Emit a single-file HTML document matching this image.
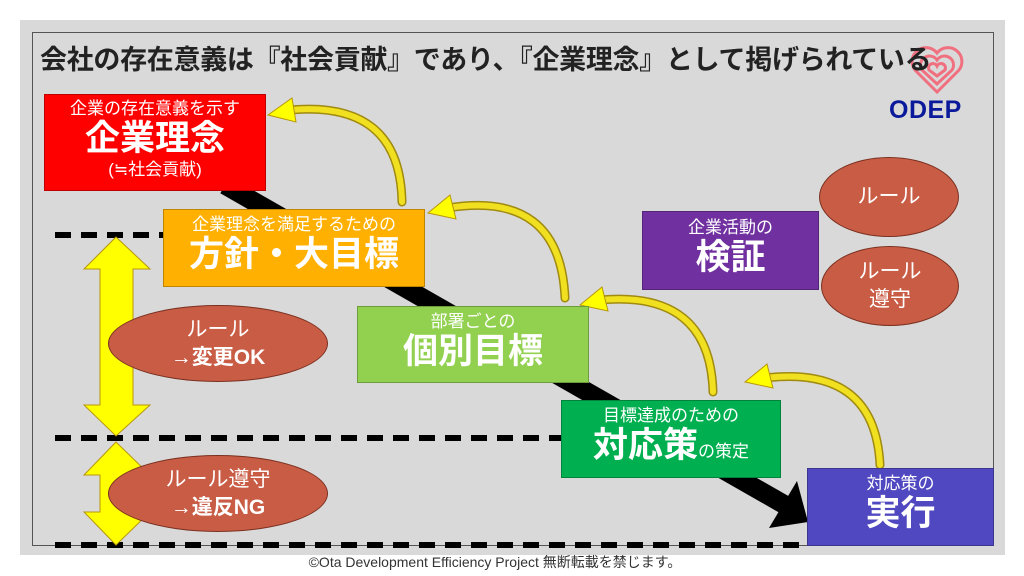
<!DOCTYPE html>
<html><head><meta charset="utf-8"><style>
body{margin:0;width:1024px;height:576px;background:#fff;position:relative;overflow:hidden;font-family:"Liberation Sans","Noto Sans CJK JP",sans-serif}
.a{position:absolute}
.box{position:absolute;color:#fff;text-align:center;box-sizing:border-box;border:1px solid rgba(0,0,0,.25)}
.sm{font-size:17px;line-height:21px}
.bg{font-size:35px;font-weight:bold;line-height:40px}
.el{position:absolute;background:#c95c45;border:1px solid #7a3020;border-radius:50%;color:#fff;text-align:center;box-sizing:border-box;display:flex;flex-direction:column;justify-content:center;font-size:21px;line-height:28px}
</style></head><body>
<div class="a" style="left:20px;top:20px;width:985px;height:535px;background:#d9d9d9"></div>
<div class="a" style="left:32px;top:32px;width:962px;height:514px;border:1px solid #555;box-sizing:border-box"></div>
<svg class="a" style="left:0;top:0" width="1024" height="576">
<g stroke="#000" stroke-width="6" stroke-dasharray="16 10">
<line x1="55" y1="235" x2="165" y2="235"/>
<line x1="55" y1="438" x2="561" y2="438"/>
<line x1="55" y1="545" x2="807" y2="545"/>
</g>
<line x1="225" y1="185" x2="785" y2="505" stroke="#000" stroke-width="19"/>
<polygon points="797,481 808,522 769,528" fill="#000"/>
<g fill="#ffff00" stroke="#b8960a" stroke-width="1">
<polygon points="116,237 150,269 133,269 133,405 150,405 116,436 84,405 100,405 100,269 84,269"/>
<polygon points="116,442 150,475 133,475 133,512 150,512 116,545 84,512 100,512 100,475 84,475"/>
</g>
<g fill="none" stroke="#a08a10" stroke-width="9" stroke-linecap="round">
<path d="M402,202 Q400,100 290,110"/>
<path d="M565,298 Q560,190 448,208"/>
<path d="M713,392 Q710,290 600,300"/>
<path d="M880,465 Q875,365 765,378"/>
</g>
<g fill="none" stroke="#f0e020" stroke-width="6" stroke-linecap="round">
<path d="M402,202 Q400,100 290,110"/>
<path d="M565,298 Q560,190 448,208"/>
<path d="M713,392 Q710,290 600,300"/>
<path d="M880,465 Q875,365 765,378"/>
</g>
<g fill="#ffff00" stroke="#b8960a" stroke-width="1">
<polygon points="268,115 292,98 296,122"/>
<polygon points="428,213 450,195 456,219"/>
<polygon points="580,305 602,287 608,311"/>
<polygon points="745,382 767,364 773,388"/>
</g>
<g transform="translate(937,70)" fill="none" stroke="#f07080" stroke-width="3">
<path d="M0,22 L-22,0 A12,12 0 0 1 0,-17 A12,12 0 0 1 22,0 Z"/>
<path d="M0,14 L-15,0 A8,8 0 0 1 0,-10 A8,8 0 0 1 15,0 Z"/>
<path d="M0,6 L-8,0 A4,4 0 0 1 0,-4 A4,4 0 0 1 8,0 Z"/>
</g>
</svg>
<div class="a" style="left:40px;top:38px;font-size:27px;font-weight:bold;color:#222;white-space:nowrap;letter-spacing:-0.3px">会社の存在意義は『社会貢献』であり、『企業理念』として掲げられている</div>
<div class="a" style="left:889px;top:96px;font-size:25px;font-weight:900;color:#0a1a9a;letter-spacing:0.5px">ODEP</div>
<div class="box" style="left:44px;top:94px;width:222px;height:97px;background:#ff0000"><div class="sm" style="margin-top:3px">企業の存在意義を示す</div><div class="bg">企業理念</div><div class="sm">(≒社会貢献)</div></div>
<div class="box" style="left:163px;top:209px;width:262px;height:78px;background:#ffb000"><div class="sm" style="margin-top:4px">企業理念を満足するための</div><div class="bg">方針・大目標</div></div>
<div class="box" style="left:357px;top:306px;width:232px;height:77px;background:#92d050"><div class="sm" style="margin-top:4px">部署ごとの</div><div class="bg">個別目標</div></div>
<div class="box" style="left:561px;top:400px;width:220px;height:78px;background:#00b050"><div class="sm" style="margin-top:4px">目標達成のための</div><div class="bg">対応策<span style="font-size:17px;font-weight:normal">の策定</span></div></div>
<div class="box" style="left:807px;top:468px;width:187px;height:78px;background:#5048c0"><div class="sm" style="margin-top:4px">対応策の</div><div class="bg">実行</div></div>
<div class="box" style="left:642px;top:211px;width:177px;height:79px;background:#7030a0"><div class="sm" style="margin-top:5px">企業活動の</div><div class="bg">検証</div></div>
<div class="el" style="left:819px;top:157px;width:140px;height:80px">ルール</div>
<div class="el" style="left:821px;top:246px;width:138px;height:80px">ルール<br>遵守</div>
<div class="el" style="left:108px;top:305px;width:220px;height:77px"><div>ルール</div><div style="font-weight:bold">→変更OK</div></div>
<div class="el" style="left:108px;top:455px;width:220px;height:77px"><div>ルール遵守</div><div style="font-weight:bold">→違反NG</div></div>
<div class="a" style="left:0;width:990px;top:552px;text-align:center;font-size:14px;color:#333">©Ota Development Efficiency Project 無断転載を禁じます。</div>
</body></html>
